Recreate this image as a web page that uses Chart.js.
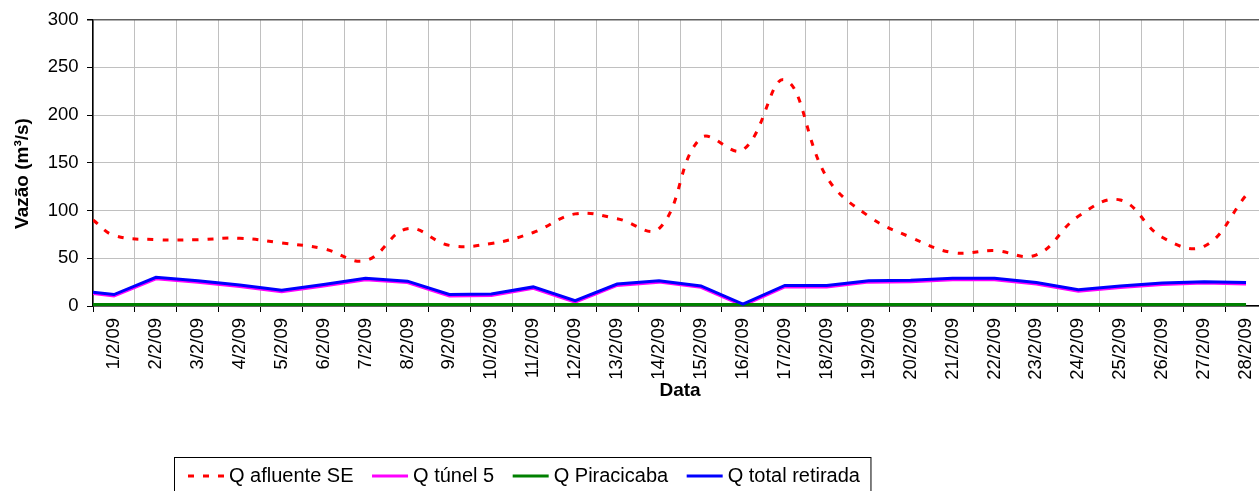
<!DOCTYPE html>
<html>
<head>
<meta charset="utf-8">
<script src="https://cdn.jsdelivr.net/npm/chart.js@4.4.0/dist/chart.umd.min.js"></script>
<style>
  html, body { margin: 0; padding: 0; overflow: hidden; background: #fff; }
  canvas { display: block; }
</style>
</head>
<body>
<canvas id="grafico" width="1280" height="500"></canvas>
<script>
// rótulos do eixo x
const dias = ['1/2/09', '2/2/09', '3/2/09', '4/2/09', '5/2/09', '6/2/09', '7/2/09',
  '8/2/09', '9/2/09', '10/2/09', '11/2/09', '12/2/09', '13/2/09', '14/2/09',
  '15/2/09', '16/2/09', '17/2/09', '18/2/09', '19/2/09', '20/2/09', '21/2/09',
  '22/2/09', '23/2/09', '24/2/09', '25/2/09', '26/2/09', '27/2/09', '28/2/09'];

// instante de cada leitura, em dias (a primeira é o início de 1/2)
const instantes = [0.5, 1, 2, 3, 4, 5, 6, 7, 8, 9, 10, 11, 12, 13, 14,
  15, 16, 17, 18, 19, 20, 21, 22, 23, 24, 25, 26, 27, 28];

// vazões (m3/s)
const qAfluenteSE = [90, 74, 69.5, 69.5, 71, 66, 60, 47.5, 81, 63.5, 65.5, 77, 96.5, 91.5, 81,
  176, 163.5, 237, 135, 94, 72, 56, 58, 53.5, 94, 111, 72, 62.5, 116];
const qTunel5 = [13, 10.5, 28.5, 25, 20.5, 15, 21, 27.5, 24.5, 10.5, 11, 18.5, 4, 21.5, 25,
  19.5, 0.5, 20, 20, 25, 25.5, 27.5, 27.5, 23, 15.5, 19.5, 22.5, 24, 23];
const qPiracicaba = [1.5, 1.5, 1.5, 1.5, 1.5, 1.5, 1.5, 1.5, 1.5, 1.5, 1.5, 1.5, 1.5, 1.5, 1.5,
  1.5, 1.5, 1.5, 1.5, 1.5, 1.5, 1.5, 1.5, 1.5, 1.5, 1.5, 1.5, 1.5, 1.5];
const qTotalRetirada = [14.5, 12, 30, 26.5, 22, 16.5, 22.5, 29, 26, 12, 12.5, 20, 5.5, 23, 26.5,
  21, 2, 21.5, 21.5, 26.5, 27, 29, 29, 24.5, 17, 21, 24, 25.5, 24.5];

const ticksY = [0, 50, 100, 150, 200, 250, 300];

const fonte = 'Liberation Sans, Arial, sans-serif';

function serie(valores) {
  return valores.map((v, i) => ({ x: instantes[i], y: v }));
}

// legenda com moldura, posicionada como no original
const legendaPlugin = {
  id: 'legenda',
  afterDraw(chart) {
    const ctx = chart.ctx;
    ctx.save();
    ctx.font = '20px ' + fonte;
    ctx.textBaseline = 'middle';
    const yMeio = 476;
    let x = 188;
    const itens = chart.data.datasets.slice().sort((a, b) => a.ordemLegenda - b.ordemLegenda);
    itens.forEach((ds) => {
      ctx.strokeStyle = ds.borderColor;
      ctx.lineWidth = 3;
      ctx.setLineDash(ds.borderDash || []);
      ctx.beginPath();
      ctx.moveTo(x, yMeio);
      ctx.lineTo(x + 36, yMeio);
      ctx.stroke();
      ctx.setLineDash([]);
      ctx.fillStyle = '#000';
      ctx.fillText(ds.label, x + 41, yMeio);
      x += 41 + ctx.measureText(ds.label).width + 18.5;
    });
    ctx.strokeStyle = '#000';
    ctx.lineWidth = 1;
    ctx.strokeRect(174.5, 457.5, x - 18.5 + 11 - 174.5, 60);

    // título do eixo y
    ctx.translate(22.5, 173.5);
    ctx.rotate(-Math.PI / 2);
    ctx.font = 'bold 19px ' + fonte;
    ctx.textAlign = 'center';
    ctx.fillText('Vazão (m³/s)', 0, 0);
    ctx.restore();
  }
};

new Chart('grafico', {
  type: 'line',
  data: {
    datasets: [
      {
        label: 'Q total retirada',
        data: serie(qTotalRetirada),
        borderColor: '#0000ff',
        borderWidth: 3,
        tension: 0,
        ordemLegenda: 3,
      },
      {
        label: 'Q Piracicaba',
        data: serie(qPiracicaba),
        borderColor: '#008000',
        borderWidth: 3,
        tension: 0,
        ordemLegenda: 2,
      },
      {
        label: 'Q túnel 5',
        data: serie(qTunel5),
        borderColor: '#ff00ff',
        borderWidth: 3,
        tension: 0,
        ordemLegenda: 1,
      },
      {
        label: 'Q afluente SE',
        data: serie(qAfluenteSE),
        borderColor: '#ff0000',
        borderWidth: 3,
        borderDash: [6, 9],
        tension: 0.4,
        ordemLegenda: 0,
      },
    ],
  },
  options: {
    responsive: false,
    animation: false,
    layout: { padding: { left: 0, top: 19, right: 13, bottom: 0 } },
    elements: { point: { radius: 0, hoverRadius: 0 } },
    plugins: { legend: { display: false }, tooltip: { enabled: false } },
    scales: {
      x: {
        type: 'linear',
        min: 0.5,
        max: 28.5,
        afterBuildTicks: (scale) => {
          const t = [{ value: 0.5 }];
          dias.forEach((d, i) => { t.push({ value: i + 1 }); t.push({ value: i + 1.5 }); });
          scale.ticks = t;
        },
        afterFit: (scale) => {
          scale.height = 500 - 306;
          scale.paddingLeft = 0;
          scale.paddingRight = 0;
        },
        ticks: {
          autoSkip: false,
          minRotation: 90,
          maxRotation: 90,
          padding: 6,
          color: '#000',
          font: { family: fonte, size: 18.5 },
          callback: (value) => Number.isInteger(value) ? dias[value - 1] : '',
        },
        grid: {
          color: (c) => (c.tick && Number.isInteger(c.tick.value)) ? 'rgba(0,0,0,0)' : '#c0c0c0',
          tickColor: (c) => (c.tick && Number.isInteger(c.tick.value)) ? 'rgba(0,0,0,0)' : '#000',
          tickLength: 6,
          lineWidth: 1,
        },
        border: { color: '#000', width: 1.5 },
        title: {
          display: true,
          text: 'Data',
          color: '#000',
          font: { family: fonte, size: 19, weight: 'bold' },
          padding: { top: 4, bottom: 98 },
        },
      },
      y: {
        min: 0,
        max: 300,
        afterBuildTicks: (scale) => { scale.ticks = ticksY.map(v => ({ value: v })); },
        afterFit: (scale) => { scale.width = 93; },
        ticks: {
          padding: 8.5,
          color: '#000',
          font: { family: fonte, size: 18.5 },
        },
        grid: {
          color: (c) => (c.tick && c.tick.value === 300) ? '#606060' : '#c0c0c0',
          lineWidth: (c) => (c.tick && c.tick.value === 300) ? 1.5 : 1,
          tickColor: '#000',
          tickLength: 6,
        },
        border: { color: '#000', width: 1.5 },
      },
    },
  },
  plugins: [legendaPlugin],
});
</script>
</body>
</html>
